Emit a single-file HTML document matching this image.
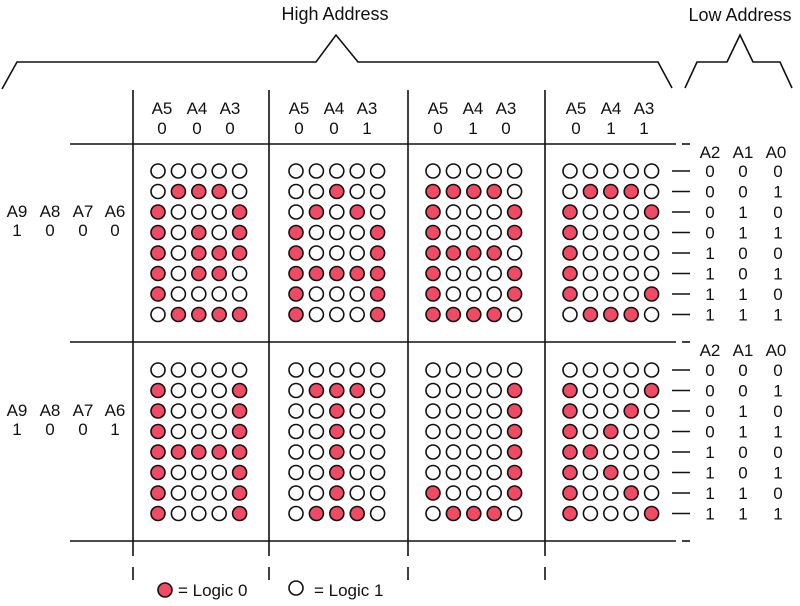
<!DOCTYPE html>
<html><head><meta charset="utf-8"><style>
html,body{margin:0;padding:0;background:#fff;width:800px;height:606px;overflow:hidden}
svg text{font-family:"Liberation Sans",sans-serif;fill:#111}
</style></head><body>
<svg id="s" width="800" height="606" viewBox="0 0 800 606" xmlns="http://www.w3.org/2000/svg">
<g stroke="#111" stroke-width="1.6" fill="none">
<polyline points="2,89 17,62 316,62 336,35 358,62 658,62 672,88"/>
<polyline points="685,88 697,62 727,62 740,35 753,62 780,62 792,88"/>
<line x1="70" y1="144" x2="676" y2="144"/>
<line x1="682" y1="144" x2="690" y2="144"/>
<line x1="70" y1="342" x2="676" y2="342"/>
<line x1="682" y1="342" x2="690" y2="342"/>
<line x1="70" y1="541" x2="676" y2="541"/>
<line x1="682" y1="541" x2="690" y2="541"/>
<line x1="133" y1="90" x2="133" y2="556"/><line x1="133" y1="567" x2="133" y2="580"/>
<line x1="269" y1="90" x2="269" y2="556"/><line x1="269" y1="567" x2="269" y2="580"/>
<line x1="408" y1="90" x2="408" y2="556"/><line x1="408" y1="567" x2="408" y2="580"/>
<line x1="545" y1="90" x2="545" y2="556"/><line x1="545" y1="567" x2="545" y2="580"/>
</g>
<text x="335" y="20" font-size="18" text-anchor="middle">High Address</text>
<text x="740" y="21" font-size="18" text-anchor="middle">Low Address</text>
<g font-size="17" text-anchor="middle">
<text x="162" y="114">A5</text><text x="197" y="114">A4</text><text x="230" y="114">A3</text>
<text x="162" y="134">0</text><text x="197" y="134">0</text><text x="230" y="134">0</text>
<text x="299" y="114">A5</text><text x="334" y="114">A4</text><text x="367" y="114">A3</text>
<text x="299" y="134">0</text><text x="334" y="134">0</text><text x="367" y="134">1</text>
<text x="438" y="114">A5</text><text x="473" y="114">A4</text><text x="506" y="114">A3</text>
<text x="438" y="134">0</text><text x="473" y="134">1</text><text x="506" y="134">0</text>
<text x="576" y="114">A5</text><text x="611" y="114">A4</text><text x="644" y="114">A3</text>
<text x="576" y="134">0</text><text x="611" y="134">1</text><text x="644" y="134">1</text>
<text x="17" y="217">A9</text><text x="50" y="217">A8</text><text x="83" y="217">A7</text><text x="115" y="217">A6</text>
<text x="17" y="236">1</text><text x="50" y="236">0</text><text x="83" y="236">0</text><text x="115" y="236">0</text>
<text x="17" y="416">A9</text><text x="50" y="416">A8</text><text x="83" y="416">A7</text><text x="115" y="416">A6</text>
<text x="17" y="435">1</text><text x="50" y="435">0</text><text x="83" y="435">0</text><text x="115" y="435">1</text>
<text x="710" y="158">A2</text><text x="743" y="158">A1</text><text x="776" y="158">A0</text>
<text x="710" y="356">A2</text><text x="743" y="356">A1</text><text x="776" y="356">A0</text>
</g>
<g id="rl" font-size="17" text-anchor="middle"></g>
<g id="dots" stroke="#111" stroke-width="1.6"></g>
<circle cx="165" cy="590" r="7" fill="#f04a64" stroke="#111" stroke-width="1.6"/>
<text x="178" y="596" font-size="17">= Logic 0</text>
<circle cx="296" cy="588" r="7" fill="#fff" stroke="#111" stroke-width="1.6"/>
<text x="314" y="596" font-size="17">= Logic 1</text>
</svg>
<script>
var P=[
["00000","01110","10001","10101","10111","10110","10000","01111"],
["00000","00100","01010","10001","10001","11111","10001","10001"],
["00000","11110","10001","10001","11110","10001","10001","11110"],
["00000","01110","10001","10000","10000","10000","10001","01110"],
["00000","10001","10001","10001","11111","10001","10001","10001"],
["00000","01110","00100","00100","00100","00100","00100","01110"],
["00000","00001","00001","00001","00001","00001","10001","01110"],
["00000","10001","10010","10100","11000","10100","10010","10001"]];
var X=[158,296,433,570],Y=[171,370],ns="http://www.w3.org/2000/svg";
var d=document.getElementById("dots"),rl=document.getElementById("rl");
for(var p=0;p<8;p++){var bx=X[p%4],by=Y[p>>2];
for(var r=0;r<8;r++)for(var c=0;c<5;c++){var e=document.createElementNS(ns,"circle");
e.setAttribute("cx",bx+c*20.4);e.setAttribute("cy",by+r*20.5);e.setAttribute("r",7);
e.setAttribute("fill",P[p][r][c]=="1"?"#f04a64":"#fff");d.appendChild(e);}}
for(var b=0;b<2;b++)for(var r=0;r<8;r++){var y=Y[b]+r*20.5;
var l=document.createElementNS(ns,"line");l.setAttribute("x1",672);l.setAttribute("x2",690);
l.setAttribute("y1",y);l.setAttribute("y2",y);l.setAttribute("stroke","#111");l.setAttribute("stroke-width","1.6");d.appendChild(l);
var bits=[(r>>2)&1,(r>>1)&1,r&1],xs=[710,743,778];
for(var k=0;k<3;k++){var t=document.createElementNS(ns,"text");t.setAttribute("x",xs[k]);t.setAttribute("y",y+6);t.textContent=bits[k];rl.appendChild(t);}}
</script>
</body></html>
